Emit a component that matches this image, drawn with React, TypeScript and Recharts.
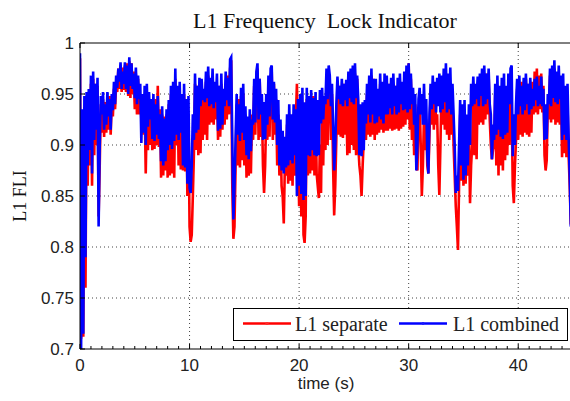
import React from 'react';
import { LineChart, Line, XAxis, YAxis, CartesianGrid, ReferenceLine } from 'recharts';

// FLI samples every 0.1 s, stored as value x 1000 (one row per second)
const STEP = 0.1;

const SEPARATE = [
  985, 710, 920, 712, 930, 760, 940, 860, 945, 880,
  960, 860, 965, 890, 960, 900, 958, 830, 880, 940,
  912, 945, 908, 942, 912, 944, 915, 948, 910, 942,
  928, 955, 935, 960, 952, 975, 955, 978, 952, 976,
  954, 978, 952, 980, 948, 982, 946, 980, 950, 972,
  935, 970, 930, 965, 930, 950, 925, 945, 910, 940,
  872, 930, 895, 945, 900, 942, 895, 940, 896, 945,
  900, 958, 898, 935, 868, 930, 870, 928, 875, 930,
  868, 940, 870, 950, 872, 958, 868, 965, 900, 955,
  880, 950, 876, 945, 875, 950, 874, 945, 850, 930,
  820, 805, 812, 850, 892, 960, 895, 958, 890, 955,
  892, 955, 905, 950, 910, 962, 905, 968, 920, 965,
  922, 965, 920, 960, 925, 955, 905, 958, 908, 960,
  915, 950, 920, 960, 925, 968, 930, 975, 983, 860,
  808, 820, 878, 940, 880, 945, 878, 948, 885, 950,
  880, 930, 868, 925, 870, 922, 872, 930, 905, 958,
  910, 968, 975, 905, 965, 908, 940, 880, 853, 880,
  930, 905, 958, 908, 968, 972, 905, 960, 910, 945,
  880, 930, 870, 915, 860, 850, 823, 880, 870, 920,
  862, 930, 865, 928, 860, 930, 870, 925, 960, 900,
  840, 930, 830, 940, 812, 804, 830, 945, 870, 948,
  872, 945, 875, 948, 870, 940, 872, 860, 848, 900,
  853, 945, 880, 945, 895, 965, 900, 968, 960, 905,
  950, 880, 831, 860, 907, 955, 910, 958, 908, 956,
  907, 960, 910, 958, 890, 962, 892, 968, 900, 970,
  895, 970, 890, 965, 900, 880, 870, 850, 880, 905,
  930, 905, 950, 910, 960, 908, 968, 910, 965, 905,
  955, 910, 952, 912, 960, 915, 958, 912, 960, 914,
  958, 914, 960, 916, 955, 914, 960, 915, 958, 916,
  955, 914, 960, 916, 958, 918, 962, 920, 970, 925,
  980, 915, 965, 905, 948, 890, 940, 880, 875, 930,
  945, 900, 850, 880, 930, 895, 925, 880, 872, 910,
  950, 920, 955, 915, 958, 920, 930, 880, 851, 900,
  955, 920, 965, 915, 970, 910, 968, 905, 960, 910,
  945, 900, 870, 840, 820, 797, 860, 930, 865, 925,
  860, 935, 862, 925, 870, 920, 843, 880, 900, 955,
  890, 958, 886, 955, 920, 960, 922, 965, 920, 968,
  925, 970, 930, 968, 925, 900, 886, 895, 900, 950,
  880, 958, 870, 955, 880, 950, 875, 955, 885, 952,
  890, 960, 900, 965, 940, 860, 843, 880, 905, 955,
  905, 960, 910, 962, 908, 958, 912, 965, 910, 960,
  908, 958, 912, 962, 930, 972, 932, 975, 930, 968,
  935, 970, 932, 958, 890, 875, 885, 940, 925, 968,
  922, 972, 925, 975, 920, 970, 922, 968, 920, 962,
  888, 950, 892, 945, 888, 940, 890, 860, 822,
];

const COMBINED = [
  990, 700, 935, 715, 948, 790, 952, 880, 955, 895,
  968, 872, 972, 905, 960, 915, 966, 820, 900, 948,
  930, 952, 915, 940, 920, 952, 928, 945, 915, 950,
  934, 962, 940, 968, 956, 975, 962, 981, 955, 972,
  960, 981, 955, 978, 950, 986, 958, 980, 955, 970,
  946, 976, 940, 968, 945, 960, 902, 950, 912, 958,
  900, 960, 918, 952, 925, 945, 906, 950, 904, 940,
  910, 948, 906, 930, 884, 938, 880, 926, 884, 935,
  895, 944, 900, 958, 896, 962, 904, 975, 910, 958,
  905, 962, 912, 950, 880, 960, 878, 945, 862, 948,
  858, 853, 880, 930, 905, 970, 912, 958, 915, 966,
  938, 965, 944, 955, 942, 972, 946, 977, 938, 966,
  940, 975, 936, 962, 942, 970, 914, 958, 916, 970,
  920, 955, 938, 972, 944, 966, 938, 984, 986, 905,
  827, 860, 905, 950, 910, 940, 904, 956, 912, 960,
  905, 938, 890, 928, 886, 935, 894, 925, 920, 965,
  922, 972, 980, 925, 965, 930, 950, 905, 942, 906,
  950, 920, 968, 928, 975, 978, 925, 962, 922, 955,
  900, 944, 880, 925, 875, 914, 872, 908, 878, 930,
  880, 940, 885, 930, 882, 940, 890, 935, 850, 945,
  860, 950, 852, 956, 846, 942, 850, 956, 890, 948,
  889, 954, 895, 946, 890, 952, 889, 944, 890, 954,
  921, 956, 925, 948, 940, 975, 945, 978, 968, 938,
  960, 920, 875, 900, 940, 967, 945, 958, 940, 965,
  938, 960, 944, 964, 938, 972, 946, 975, 942, 978,
  940, 980, 946, 968, 944, 890, 940, 889, 942, 895,
  944, 921, 960, 930, 968, 922, 975, 930, 965, 921,
  965, 922, 955, 928, 970, 925, 962, 921, 970, 930,
  968, 930, 960, 936, 966, 930, 970, 938, 958, 930,
  966, 932, 970, 940, 962, 934, 972, 935, 978, 932,
  980, 935, 970, 940, 956, 920, 950, 875, 900, 945,
  956, 930, 950, 920, 960, 920, 945, 890, 872, 930,
  960, 935, 968, 940, 962, 932, 966, 938, 970, 932,
  968, 935, 975, 942, 980, 932, 970, 935, 976, 930,
  960, 930, 900, 853, 870, 855, 900, 944, 880, 940,
  866, 944, 870, 930, 880, 940, 900, 960, 938, 967,
  940, 960, 945, 967, 938, 970, 948, 975, 938, 978,
  940, 970, 945, 975, 940, 930, 886, 920, 905, 960,
  910, 968, 915, 958, 908, 966, 906, 970, 910, 958,
  912, 970, 940, 975, 978, 889, 930, 900, 940, 965,
  930, 968, 938, 958, 930, 966, 934, 970, 940, 960,
  930, 966, 935, 955, 938, 965, 944, 967, 938, 958,
  940, 967, 938, 955, 905, 940, 906, 950, 940, 975,
  938, 978, 946, 983, 942, 972, 940, 978, 945, 968,
  905, 970, 910, 958, 905, 960, 908, 870, 820,
];

const Y_TICKS = [0.7, 0.75, 0.8, 0.85, 0.9, 0.95, 1];
const X_TICKS = Array.from({ length: 46 }, (_, i) => i);

const data = COMBINED.map((c, i) => ({
  t: Math.round(i * STEP * 10) / 10,
  separate: SEPARATE[i] / 1000,
  combined: c / 1000,
}));

const W = 580;
const H = 401;
const LEFT = 80;
const TOP = 43;
const BOTTOM = 349;
const SANS = '"Liberation Sans", Arial, sans-serif';
const SERIF = '"Liberation Serif", "Times New Roman", serif';

// minor ticks every second, labelled majors every 10 s (inward, with a matching top tick)
function TimeTick(props: any) {
  const { x, payload } = props;
  const major = payload.value % 10 === 0;
  return (
    <g>
      <line x1={x} x2={x} y1={BOTTOM} y2={BOTTOM - (major ? 5 : 3)} stroke="#000" />
      {major && <line x1={x} x2={x} y1={TOP} y2={TOP + 5} stroke="#000" />}
      {major && (
        <text x={x} y={BOTTOM + 22} textAnchor="middle" fontFamily={SANS} fontSize={17} fill="#222">
          {payload.value}
        </text>
      )}
    </g>
  );
}

function FliTick(props: any) {
  const { y, payload } = props;
  return (
    <g>
      <line x1={LEFT} x2={LEFT + 5} y1={y} y2={y} stroke="#000" />
      <text x={LEFT - 6} y={y + 6} textAnchor="end" fontFamily={SANS} fontSize={17} fill="#222">
        {String(payload.value)}
      </text>
    </g>
  );
}

export default function App() {
  return (
    <div style={{ position: 'absolute', left: 0, top: 0, width: 570, height: H, overflow: 'hidden', background: '#fff' }}>
      <LineChart width={W} height={H} data={data} margin={{ top: TOP, right: 7, bottom: 0, left: 0 }}>
        <CartesianGrid
          stroke="#444"
          strokeDasharray="1 3"
          verticalValues={[10, 20, 30, 40]}
          horizontalValues={[0.75, 0.8, 0.85, 0.9, 0.95]}
        />
        <XAxis
          dataKey="t"
          type="number"
          domain={[0, 45]}
          ticks={X_TICKS}
          interval={0}
          height={H - BOTTOM}
          axisLine={{ stroke: '#000' }}
          tickLine={false}
          tick={TimeTick}
          allowDataOverflow
        />
        <YAxis
          type="number"
          domain={[0.7, 1]}
          ticks={Y_TICKS}
          interval={0}
          width={LEFT}
          axisLine={{ stroke: '#000' }}
          tickLine={false}
          tick={FliTick}
          allowDataOverflow
        />
        <ReferenceLine y={1} stroke="#000" />
        <Line
          type="linear"
          dataKey="separate"
          stroke="#ff0000"
          strokeWidth={2.6}
          dot={false}
          isAnimationActive={false}
        />
        <Line
          type="linear"
          dataKey="combined"
          stroke="#0000ff"
          strokeWidth={2.6}
          dot={false}
          isAnimationActive={false}
        />
      </LineChart>

      <svg width={570} height={H} style={{ position: 'absolute', left: 0, top: 0, pointerEvents: 'none' }}>
        <text x={325} y={28} textAnchor="middle" fontFamily={SERIF} fontSize={22} fill="#111" style={{ whiteSpace: 'pre' }}>
          {'L1 Frequency  Lock Indicator'}
        </text>
        <text transform="translate(26,196) rotate(-90)" textAnchor="middle" fontFamily={SERIF} fontSize={18} fill="#111">
          L1 FLI
        </text>
        <text x={326} y={389} textAnchor="middle" fontFamily={SANS} fontSize={17} fill="#222">
          time (s)
        </text>

        <rect x={233.5} y={308.5} width={334} height={32} fill="#fff" stroke="#000" />
        <line x1={243} x2={291} y1={323.5} y2={323.5} stroke="#ff0000" strokeWidth={2.5} />
        <circle cx={267} cy={323.5} r={1.6} fill="#ff2a2a" />
        <text x={295} y={331} fontFamily={SERIF} fontSize={20} fill="#222">L1 separate</text>
        <line x1={399} x2={447} y1={323.5} y2={323.5} stroke="#0000ff" strokeWidth={2.5} />
        <circle cx={423} cy={323.5} r={1.4} fill="#1a1aff" />
        <text x={453} y={331} fontFamily={SERIF} fontSize={20} fill="#222">L1 combined</text>
      </svg>
    </div>
  );
}
